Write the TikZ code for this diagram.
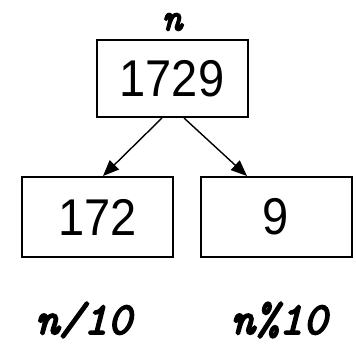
\documentclass[tikz,border=0pt]{standalone}
\usepackage{fontspec}
\setmainfont{Liberation Sans}
\newfontfamily\codefont{lmmono10-italic.otf}[FakeBold=3.5]
\usetikzlibrary{arrows.meta}

\newcommand{\tallnum}[1]{\scalebox{1}[1.1]{#1}}
\tikzset{
  numbox/.style={draw, line width=2pt, minimum width=151pt, inner sep=0pt, font=\fontsize{47}{50}\selectfont},
  codelabel/.style={inner sep=0pt, font=\codefont\fontsize{46}{48}\selectfont},
  splitarrow/.style={line width=1.4pt, -{Triangle[length=16pt,width=13pt]}}
}

\begin{document}
\begin{tikzpicture}[x=1pt,y=1pt,yscale=-1,xscale=1]
\useasboundingbox (0,0) rectangle (356,346);

%Shape: Rectangle [id:top]
\node [numbox, minimum height=77pt] (whole) at (172,78.5) {\tallnum{1729}};
%Shape: Rectangle [id:left]
\node [numbox, minimum height=80pt] (quot) at (97.5,217) {\tallnum{172}};
%Shape: Rectangle [id:right]
\node [numbox, minimum height=80pt] (rem) at (276,217) {\tallnum{9}};

%Straight Lines [id:arrow left]
\draw [splitarrow] ([xshift=-10pt]whole.south) -- ([xshift=5.5pt]quot.north);
%Straight Lines [id:arrow right]
\draw [splitarrow] ([xshift=12pt]whole.south) -- ([xshift=-29pt]rem.north);

% Text Node
\node [codelabel, font=\codefont\fontsize{39}{41}\selectfont] (nlabel) at (172,22) {n};
% Text Node
\node [codelabel] (divlabel) at (83.5,320) {n/10};
% Text Node
\node [codelabel] (modlabel) at (279,320) {n\%10};

\end{tikzpicture}
\end{document}
